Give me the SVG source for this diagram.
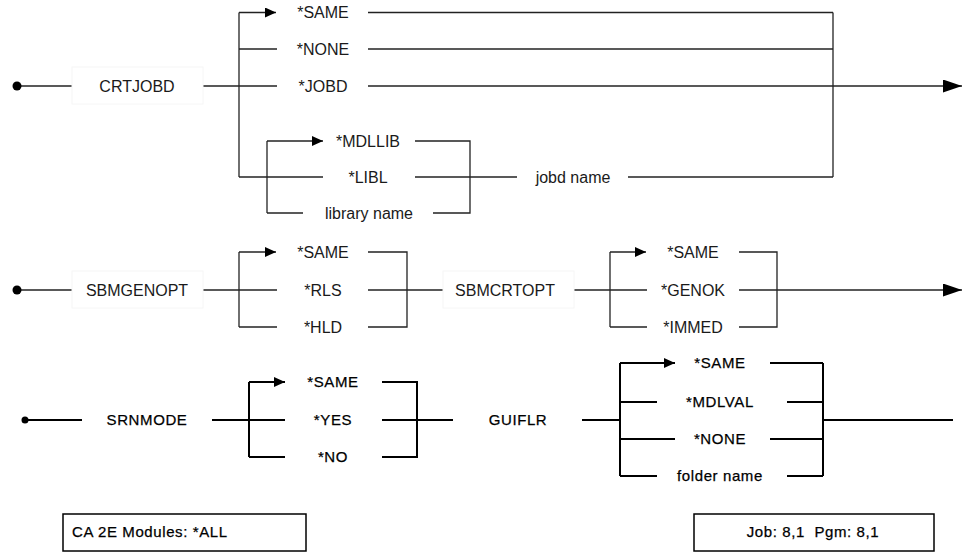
<svg xmlns="http://www.w3.org/2000/svg" width="966" height="552" viewBox="0 0 966 552">
<style>
text{font-family:"Liberation Sans",Arial,sans-serif;font-size:16px;fill:#1a1a1a;text-anchor:middle}
.b text{font-size:15px;fill:#000;letter-spacing:0.6px;stroke:#000;stroke-width:0.25}
.t{fill:none;stroke:#222;stroke-width:1.3}
.w{fill:none;stroke:#000;stroke-width:2}
.lb{fill:#fff;stroke:#f6f6f6;stroke-width:1}
.bx{fill:#fff;stroke:#000;stroke-width:1.5}
</style>
<defs>
<marker id="s" markerUnits="userSpaceOnUse" markerWidth="12" markerHeight="11" refX="11" refY="5" orient="auto"><path d="M0,0 L11,5 L0,10 z" fill="#000"/></marker>
<marker id="g" markerUnits="userSpaceOnUse" markerWidth="20" markerHeight="14" refX="19" refY="6.5" orient="auto"><path d="M0,0 L19,6.5 L0,13 z" fill="#000"/></marker>
</defs>
<rect width="966" height="552" fill="#fff"/>
<g id="connectors">
<g class="t">
<path d="M21,86 H72"/>
<path d="M203,86 H277"/>
<path d="M239,12.5 V177"/>
<path d="M239,12.5 H276" marker-end="url(#s)"/>
<path d="M239,49 H277"/>
<path d="M368,12.5 H833"/>
<path d="M368,49 H833"/>
<path d="M368,86 H962" marker-end="url(#g)"/>
<path d="M833,12.5 V177"/>
<path d="M239,177 H323"/>
<path d="M415,177 H517"/>
<path d="M628,177 H833"/>
<path d="M267,141 V213"/>
<path d="M267,141 H323" marker-end="url(#s)"/>
<path d="M267,213 H303"/>
<path d="M415,141 H470 V213 H433"/>
<path d="M21,290 H72"/>
<path d="M203,290 H277"/>
<path d="M239,252 V327"/>
<path d="M239,252 H276" marker-end="url(#s)"/>
<path d="M239,327 H277"/>
<path d="M368,252 H407 V327 H368"/>
<path d="M368,290 H443"/>
<path d="M574,290 H647"/>
<path d="M610,252 V327"/>
<path d="M610,252 H646" marker-end="url(#s)"/>
<path d="M610,327 H647"/>
<path d="M739,252 H777 V327 H739"/>
<path d="M739,290 H962" marker-end="url(#g)"/>
</g>
<g class="w">
<path d="M25,420 H82"/>
<path d="M212,420 H285"/>
<path d="M249,382 V457"/>
<path d="M249,382 H285" marker-end="url(#s)"/>
<path d="M249,457 H285"/>
<path d="M382,382 H417 V457 H382"/>
<path d="M382,420 H453"/>
<path d="M582,420 H620"/>
<path d="M620,363 V476"/>
<path d="M620,363 H675" marker-end="url(#s)"/>
<path d="M620,402 H657"/>
<path d="M620,439 H675"/>
<path d="M620,476 H657"/>
<path d="M770,363 H823"/>
<path d="M787,402 H823"/>
<path d="M770,439 H823"/>
<path d="M787,476 H823"/>
<path d="M823,363 V476"/>
<path d="M823,420 H953"/>
</g>
</g>
<g id="start1"><circle cx="17" cy="86" r="4.5" fill="#000"/></g>
<g id="start2"><circle cx="17" cy="290" r="4.5" fill="#000"/></g>
<g id="start3"><circle cx="25" cy="420" r="3.5" fill="#000"/></g>
<g id="crtjobd"><rect class="lb" x="72" y="67" width="131" height="37"/><text x="137" y="86" dy="0.35em">CRTJOBD</text></g>
<g id="t-same"><text x="323" y="12.5" dy="0.35em">*SAME</text></g>
<g id="t-none"><text x="323" y="49" dy="0.35em">*NONE</text></g>
<g id="t-jobd"><text x="323" y="86" dy="0.35em">*JOBD</text></g>
<g id="t-mdllib"><text x="368" y="141" dy="0.35em">*MDLLIB</text></g>
<g id="t-libl"><text x="368" y="177" dy="0.35em">*LIBL</text></g>
<g id="t-libname"><text x="369" y="213" dy="0.35em">library name</text></g>
<g id="t-jobdname"><text x="573" y="177" dy="0.35em">jobd name</text></g>
<g id="sbmgenopt"><rect class="lb" x="72" y="271" width="131" height="37"/><text x="137" y="290" dy="0.35em">SBMGENOPT</text></g>
<g id="g-same"><text x="323" y="252" dy="0.35em">*SAME</text></g>
<g id="g-rls"><text x="323" y="290" dy="0.35em">*RLS</text></g>
<g id="g-hld"><text x="323" y="327" dy="0.35em">*HLD</text></g>
<g id="sbmcrtopt"><rect class="lb" x="443" y="271" width="131" height="37"/><text x="505" y="290" dy="0.35em">SBMCRTOPT</text></g>
<g id="c-same"><text x="693" y="252" dy="0.35em">*SAME</text></g>
<g id="c-genok"><text x="693" y="290" dy="0.35em">*GENOK</text></g>
<g id="c-immed"><text x="693" y="327" dy="0.35em">*IMMED</text></g>
<g class="b">
<g id="srnmode"><text x="147" y="420" dy="0.35em">SRNMODE</text></g>
<g id="s-same"><text x="333" y="382" dy="0.35em">*SAME</text></g>
<g id="s-yes"><text x="333" y="420" dy="0.35em">*YES</text></g>
<g id="s-no"><text x="333" y="457" dy="0.35em">*NO</text></g>
<g id="guiflr"><text x="518" y="420" dy="0.35em">GUIFLR</text></g>
<g id="f-same"><text x="720" y="363" dy="0.35em">*SAME</text></g>
<g id="f-mdlval"><text x="720" y="402" dy="0.35em">*MDLVAL</text></g>
<g id="f-none"><text x="720" y="439" dy="0.35em">*NONE</text></g>
<g id="f-folder"><text x="720" y="476" dy="0.35em">folder name</text></g>
<g id="modules"><rect class="bx" x="63" y="514" width="243" height="37"/><text x="72" y="532" dy="0.35em" style="text-anchor:start">CA 2E Modules: *ALL</text></g>
<g id="jobpgm"><rect class="bx" x="694" y="514" width="240" height="37"/><text x="813" y="532" dy="0.35em" xml:space="preserve">Job: 8,1  Pgm: 8,1</text></g>
</g>
</svg>
